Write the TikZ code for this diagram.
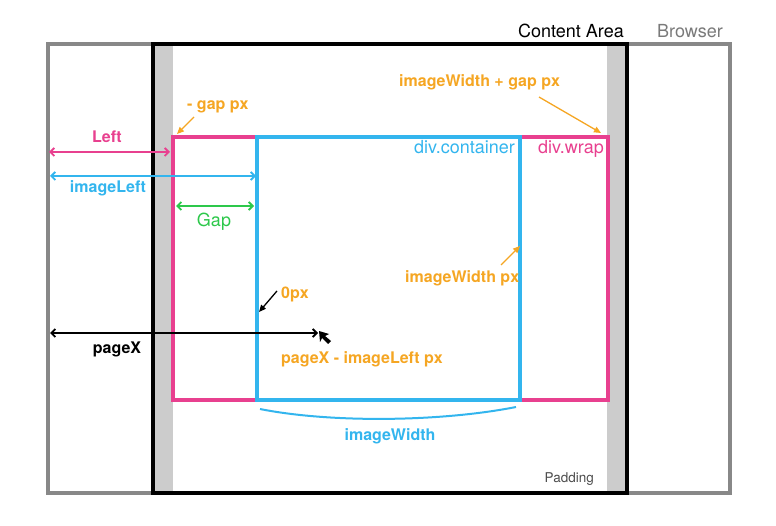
\documentclass[tikz,border=0pt]{standalone}
\usepackage{fontspec}
\setmainfont{TeX Gyre Heros}
\usetikzlibrary{arrows.meta,calc}

\definecolor{wrappink}{HTML}{E8408F}
\definecolor{boxblue}{HTML}{33B5EE}
\definecolor{noteorange}{HTML}{F5A623}
\definecolor{gapgreen}{HTML}{2DC84B}
\definecolor{padgray}{HTML}{CCCCCC}
\definecolor{browsergray}{HTML}{888888}

\begin{document}
\begin{tikzpicture}[x=1pt, y=-1pt,
    boldlbl/.style={font=\fontsize{16}{19}\selectfont\bfseries, inner sep=0pt},
    plainlbl/.style={font=\fontsize{18}{21}\selectfont, inner sep=0pt},
    dimline/.style={line width=1.8pt, {Straight Barb[length=4pt,width=8pt]}-{Straight Barb[length=4pt,width=8pt]}},
    noteline/.style={noteorange, line width=1.3pt, -{Triangle[length=7pt,width=6pt]}}]
            \useasboundingbox (0,0) rectangle (776,526);

            % Browser, content area and padding
            \draw[browsergray, line width=3.2pt] (48,44) rectangle (730,493);
            \foreach \xa/\xb in {153/173, 607/627} {
                \fill[padgray] (\xa,44) rectangle (\xb,493);
            }
            \draw[line width=3.5pt] (153,44) rectangle (627,493);

            % Corners
            \coordinate (wrapNW) at (173,137);
            \coordinate (wrapNE) at (608,137);
            \coordinate (boxSW) at (257,400);
            \coordinate (boxSE) at (520,400);

            % div.wrap and div.container
            \draw[wrappink, line width=3.2pt] (wrapNW) rectangle (wrapNE |- boxSW);
            \draw[boxblue, line width=3.2pt] (wrapNW -| boxSW) rectangle (boxSE);

            % Titles
            \node[plainlbl, anchor=base east] (contentlbl) at (624,38) {Content Area};
            \node[plainlbl, anchor=base west, text=browsergray!90!black] (browserlbl) at (657,38) {Browser};
            \node[plainlbl, anchor=base east, text=boxblue] (containerlbl) at (515,154) {div.container};
            \node[plainlbl, anchor=base east, text=wrappink] (wraplbl) at (604,154) {div.wrap};
            \node[font=\fontsize{13.5}{16}\selectfont, inner sep=0pt, anchor=base east, text=black!70] (paddinglbl) at (594,482) {Padding};

            % Measures
            \coordinate (leftA) at (49,152);
            \coordinate (leftB) at (170,152);
            \coordinate (ileftA) at (50,176);
            \coordinate (ileftB) at (256,176);
            \coordinate (gapA) at (176,206);
            \coordinate (gapB) at (254,206);
            \coordinate (pxA) at (50,333);
            \coordinate (pxB) at (318,333);
            \draw[dimline, wrappink] (leftA) -- (leftB);
            \draw[dimline, boxblue] (ileftA) -- (ileftB);
            \draw[dimline, gapgreen] (gapA) -- (gapB);
            \draw[dimline, black] (pxA) -- (pxB);
            \node[boldlbl, text=wrappink, anchor=base] (leftlbl) at (107,143) {Left};
            \node[boldlbl, text=boxblue, anchor=base] (ileftlbl) at (108,193) {imageLeft};
            \node[plainlbl, text=gapgreen, anchor=base] (gaplbl) at (214,227) {Gap};
            \node[boldlbl, anchor=base] (pagexlbl) at (117,353) {pageX};

            % Mouse pointer
            \fill (319,331) -- (329,334) -- (325,336) -- (331,341) -- (328,344) -- (322,338) -- (320,342) -- cycle;

            % Notes
            \node[boldlbl, text=noteorange, anchor=base west] (wgaplbl) at (399,87) {imageWidth + gap px};
            \node[boldlbl, text=noteorange, anchor=base west] (mgaplbl) at (187,110) {- gap px};
            \node[boldlbl, text=noteorange, anchor=base west] (iwpxlbl) at (405,283) {imageWidth px};
            \node[boldlbl, text=noteorange, anchor=base west] (zerolbl) at (281,299) {0px};
            \node[boldlbl, text=noteorange, anchor=base west] (relxlbl) at (281,363) {pageX - imageLeft px};
            \coordinate (wgapend) at (601,133);
            \coordinate (mgapend) at (177,134);
            \coordinate (iwpxend) at (520,246);
            \coordinate (zeroend) at (259,312);
            \draw[noteline] (539,97) -- (wgapend);
            \draw[noteline] (194,117) -- (mgapend);
            \draw[noteline] (501,265) -- (iwpxend);
            \draw[line width=1.3pt, -{Triangle[length=7pt,width=6pt]}] (zerolbl.west) ++(-4,-4) -- (zeroend);

            % Width of the image
            \draw[boxblue, line width=2pt] ($(boxSW)+(3,9)$) .. controls (330,423) and (440,422) .. ($(boxSE)+(-4,7)$);
            \node[boldlbl, text=boxblue, anchor=base] (iwlbl) at (390,440) {imageWidth};
\end{tikzpicture}
\end{document}
